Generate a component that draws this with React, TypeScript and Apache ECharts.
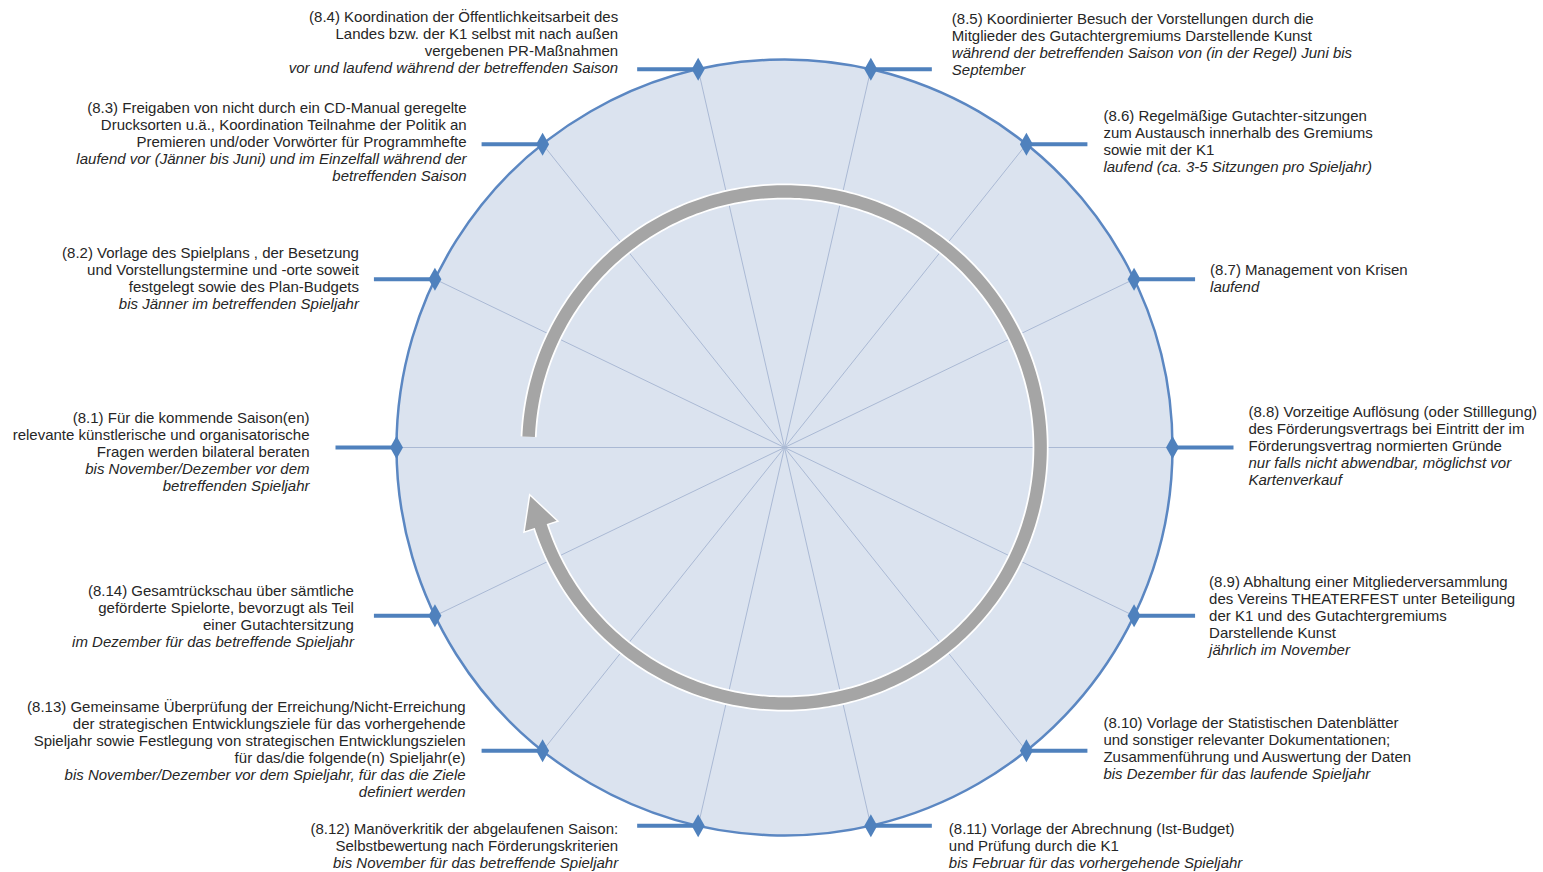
import React, { useEffect, useRef } from "react";
import * as echarts from "echarts";

// ---- data ----
const stepIds = ["8.1", "8.2", "8.3", "8.4", "8.5", "8.6", "8.7", "8.8", "8.9", "8.10", "8.11", "8.12", "8.13", "8.14"];

const stepTitles: string[][] = [
  ["(8.1) Für die kommende Saison(en)", "relevante künstlerische und organisatorische", "Fragen werden bilateral beraten"],
  ["(8.2) Vorlage des Spielplans , der Besetzung", "und Vorstellungstermine und -orte soweit", "festgelegt sowie des Plan-Budgets"],
  ["(8.3) Freigaben von nicht durch ein CD-Manual geregelte", "Drucksorten u.ä., Koordination Teilnahme der Politik an", "Premieren und/oder Vorwörter für Programmhefte"],
  ["(8.4) Koordination der Öffentlichkeitsarbeit des", "Landes bzw. der K1 selbst mit nach außen", "vergebenen PR-Maßnahmen"],
  ["(8.5) Koordinierter Besuch der Vorstellungen durch die", "Mitglieder des Gutachtergremiums Darstellende Kunst"],
  ["(8.6) Regelmäßige Gutachter-sitzungen", "zum Austausch innerhalb des Gremiums", "sowie mit der K1"],
  ["(8.7) Management von Krisen"],
  ["(8.8) Vorzeitige Auflösung (oder Stilllegung)", "des Förderungsvertrags bei Eintritt der im", "Förderungsvertrag normierten Gründe"],
  ["(8.9) Abhaltung einer Mitgliederversammlung", "des Vereins THEATERFEST unter Beteiligung", "der K1 und des Gutachtergremiums", "Darstellende Kunst"],
  ["(8.10) Vorlage der Statistischen Datenblätter", "und sonstiger relevanter Dokumentationen;", "Zusammenführung und Auswertung der Daten"],
  ["(8.11) Vorlage der Abrechnung (Ist-Budget)", "und Prüfung durch die K1"],
  ["(8.12) Manöverkritik der abgelaufenen Saison:", "Selbstbewertung nach Förderungskriterien"],
  ["(8.13) Gemeinsame Überprüfung der Erreichung/Nicht-Erreichung", "der strategischen Entwicklungsziele für das vorhergehende", "Spieljahr sowie Festlegung von strategischen Entwicklungszielen", "für das/die folgende(n) Spieljahr(e)"],
  ["(8.14) Gesamtrückschau über sämtliche", "geförderte Spielorte, bevorzugt als Teil", "einer Gutachtersitzung"],
];

const stepTimings: string[][] = [
  ["bis November/Dezember vor dem", "betreffenden Spieljahr"],
  ["bis Jänner im betreffenden Spieljahr"],
  ["laufend vor (Jänner bis Juni) und im Einzelfall während der", "betreffenden Saison"],
  ["vor und laufend während der betreffenden Saison"],
  ["während der betreffenden Saison von (in der Regel) Juni bis", "September"],
  ["laufend (ca. 3-5 Sitzungen pro Spieljahr)"],
  ["laufend"],
  ["nur falls nicht abwendbar, möglichst vor", "Kartenverkauf"],
  ["jährlich im November"],
  ["bis Dezember für das laufende Spieljahr"],
  ["bis Februar für das vorhergehende Spieljahr"],
  ["bis November für das betreffende Spieljahr"],
  ["bis November/Dezember vor dem Spieljahr, für das die Ziele", "definiert werden"],
  ["im Dezember für das betreffende Spieljahr"],
];

// position of each step around the cycle (0 = left, clockwise)
const stepOrder = [0, 1, 2, 3, 4, 5, 6, 7, 8, 9, 10, 11, 12, 13];

// ---- layout (not data) ----
const labelDy = [3.5, -1.5, -3, -27.5, -25.5, -3.5, -1, -2.5, 0, -2.5, 20, 20, -2, 0];
const labelGap = [26, 15, 15, 19, 20, 16, 15, 15, 14, 16, 17, 19, 16, 20];
const STUB = 61;
const ARC_R = 0.66;
const ARC_START = 177.6;
const ARC_BASE = 198;
const ARC_TIP = 190.5;
const HEAD_HALF = 0.046;

const FONT = "'Liberation Sans', Arial, Helvetica, sans-serif";
const BLUE = "#4f81bd";
const TEXT = "#262626";

const norm = (a: number) => ((a % 360) + 360) % 360;

export default function App() {
  const ref = useRef<HTMLDivElement>(null);

  useEffect(() => {
    if (!ref.current) return;
    const chart = echarts.init(ref.current, undefined, { renderer: "svg" });
    const n = stepIds.length;
    const step = 360 / n;
    const stepData = stepOrder.map((k) => [1, norm(180 - k * step)]);

    const option: any = {
      animation: false,
      polar: { center: [784.5, 447.5], radius: 388 },
      angleAxis: {
        type: "value",
        min: 0,
        max: 360,
        startAngle: 0,
        clockwise: false,
        axisLine: { show: true, lineStyle: { color: "#5b87c2", width: 2.5 } },
        axisTick: { show: false },
        axisLabel: { show: false },
        splitLine: { show: false },
        splitArea: { show: false },
      },
      radiusAxis: {
        type: "value",
        min: 0,
        max: 1,
        interval: 1,
        axisLine: { show: false },
        axisTick: { show: false },
        axisLabel: { show: false },
        splitLine: { show: false },
        splitArea: { show: true, areaStyle: { color: ["#dbe3ef"] } },
      },
      series: [
        {
          type: "custom",
          name: "spokes",
          coordinateSystem: "polar",
          z: 1,
          data: stepData,
          renderItem: (params: any, api: any) => {
            const ang = api.value(1);
            const c = api.coord([0, ang]);
            const p = api.coord([1, ang]);
            return {
              type: "line",
              shape: { x1: c[0], y1: c[1], x2: p[0], y2: p[1] },
              style: { stroke: "#aab9d4", lineWidth: 1 },
            };
          },
        },
        {
          type: "custom",
          name: "cycle",
          coordinateSystem: "polar",
          z: 2,
          data: [[ARC_R, ARC_START]],
          renderItem: (params: any, api: any) => {
            const r = api.value(0);
            const start = api.value(1);
            const end = ARC_BASE - 360;
            const pts: number[][] = [];
            for (let a = start; a >= end + 0.5; a -= 1) pts.push(api.coord([r, norm(a)]));
            pts.push(api.coord([r, norm(end - 0.5)]));
            const b1 = api.coord([r + HEAD_HALF, norm(ARC_BASE)]);
            const b2 = api.coord([r - HEAD_HALF, norm(ARC_BASE)]);
            const tip = api.coord([r + 0.008, norm(ARC_TIP)]);
            return {
              type: "group",
              children: [
                { type: "polyline", shape: { points: pts }, style: { stroke: "#ffffff", lineWidth: 16, fill: "none", lineCap: "butt" } },
                { type: "polygon", shape: { points: [b1, tip, b2] }, style: { fill: "#a5a5a5", stroke: "#ffffff", lineWidth: 1.5 } },
                { type: "polyline", shape: { points: pts }, style: { stroke: "#a5a5a5", lineWidth: 12.5, fill: "none", lineCap: "butt" } },
              ],
            };
          },
        },
        {
          type: "custom",
          name: "steps",
          coordinateSystem: "polar",
          z: 3,
          data: stepData,
          renderItem: (params: any, api: any) => {
            const i = params.dataIndex;
            const ang = api.value(1);
            const p = api.coord([1, ang]);
            const left = Math.cos((ang * Math.PI) / 180) < -1e-6;
            const dir = left ? -1 : 1;
            const sx = p[0] + dir * STUB;
            const rich = {
              n: { fontSize: 15, fontFamily: FONT, color: TEXT, lineHeight: 17 },
              t: { fontSize: 15, fontFamily: FONT, color: TEXT, lineHeight: 17, fontStyle: "italic" },
            };
            const txt = stepTitles[i].map((l) => `{n|${l}}`).concat(stepTimings[i].map((l) => `{t|${l}}`)).join("\n");
            return {
              type: "group",
              children: [
                { type: "line", shape: { x1: p[0], y1: p[1], x2: sx, y2: p[1] }, style: { stroke: BLUE, lineWidth: 4 } },
                {
                  type: "polygon",
                  shape: { points: [[p[0], p[1] - 11.5], [p[0] + 6.5, p[1]], [p[0], p[1] + 11.5], [p[0] - 6.5, p[1]]] },
                  style: { fill: BLUE },
                },
                {
                  type: "text",
                  x: sx + dir * labelGap[i],
                  y: p[1] + labelDy[i],
                  style: {
                    text: txt,
                    rich,
                    fontSize: 15,
                    fontFamily: FONT,
                    fill: TEXT,
                    align: left ? "right" : "left",
                    verticalAlign: "middle",
                  },
                },
              ],
            };
          },
        },
      ],
    };
    chart.setOption(option);
    return () => chart.dispose();
  }, []);

  return (
    <div
      ref={ref}
      style={{ position: "absolute", left: 0, top: 0, width: 1543, height: 872, background: "#ffffff" }}
    />
  );
}
